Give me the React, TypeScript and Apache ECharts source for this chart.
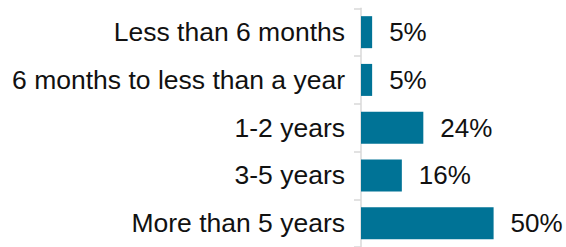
import React, { useEffect, useRef } from "react";
import * as echarts from "echarts";

const categories = [
  "Less than 6 months",
  "6 months to less than a year",
  "1-2 years",
  "3-5 years",
  "More than 5 years",
];
const values = [4.2, 4.2, 23.5, 15.4, 50];
const valueLabels = ["5%", "5%", "24%", "16%", "50%"];

export default function App() {
  const ref = useRef<HTMLDivElement>(null);
  useEffect(() => {
    document.body.style.margin = "0";
    document.body.style.overflow = "hidden";
    const chart = echarts.init(ref.current!, undefined, { renderer: "svg" });
    chart.setOption({
      animation: false,
      grid: { left: 361, right: 0, top: 8.3, bottom: -4.3, containLabel: false },
      xAxis: {
        type: "value",
        min: 0,
        max: 77.3,
        show: false,
      },
      yAxis: {
        type: "category",
        data: categories,
        inverse: true,
        axisLine: { show: true, lineStyle: { color: "#d9d9d9", width: 1.5 } },
        axisTick: { show: true, length: 7, lineStyle: { color: "#d9d9d9", width: 1.5 } },
        axisLabel: {
          margin: 16,
          color: "#111111",
          fontFamily: "Liberation Sans, Arial, sans-serif",
          fontSize: 26.5,
          padding: [3, 0, 0, 0],
        },
      },
      series: [
        {
          type: "bar",
          data: values,
          barWidth: 32,
          itemStyle: { color: "#007396" },
          label: {
            show: true,
            position: "right",
            distance: 17,
            color: "#111111",
            fontFamily: "Liberation Sans, Arial, sans-serif",
            fontSize: 26,
            padding: [3, 0, 0, 0],
            formatter: (p: any) => valueLabels[p.dataIndex],
          },
        },
      ],
    });
    return () => chart.dispose();
  }, []);
  return <div ref={ref} style={{ width: 566, height: 247 }} />;
}
